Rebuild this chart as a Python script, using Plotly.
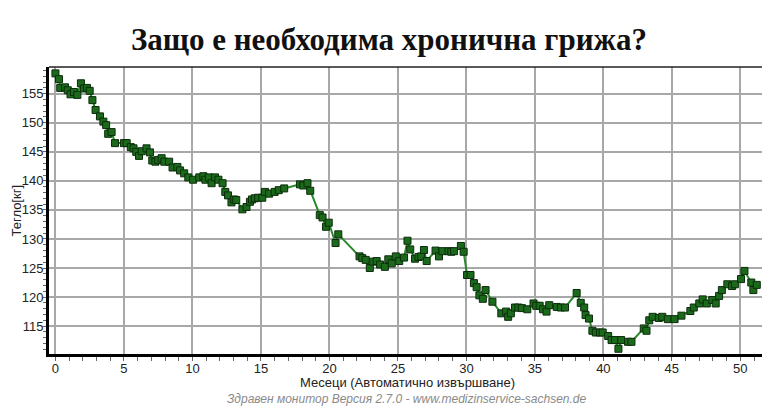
import plotly.graph_objects as go

months = [0.0, 0.26, 0.35, 0.7, 0.9, 1.1, 1.35, 1.6, 1.86, 2.08, 2.3, 2.5, 2.7, 2.93, 3.25, 3.5, 3.7, 3.85, 4.1, 4.35,
          5.0, 5.2, 5.5, 5.7, 5.9, 6.1, 6.3, 6.65, 6.9, 7.07, 7.3, 7.5, 7.75, 7.95, 8.3, 8.55, 8.9, 9.1, 9.4, 9.7,
          10.05, 10.5, 10.8, 10.95, 11.2, 11.4, 11.65, 11.9, 12.2, 12.4, 12.6, 12.85, 13.05, 13.2, 13.65, 13.95,
          14.2, 14.35, 14.55, 14.8, 15.1, 15.3, 15.6, 16.0, 16.3, 16.7, 17.85, 18.1, 18.4, 18.6,
          19.3, 19.5, 19.75, 19.95, 20.45, 20.65, 22.2, 22.4, 22.65, 22.95, 23.2, 23.45, 23.7, 24.05, 24.3, 24.55,
          24.85, 25.1, 25.45, 25.7, 25.9, 26.25, 26.5, 26.7, 26.9, 27.1, 27.75, 28.0, 28.25, 28.7, 28.9, 29.1,
          29.6, 29.8, 30.05, 30.3, 30.55, 30.75, 30.95, 31.2, 31.4, 31.9, 32.55, 32.9, 33.05, 33.25, 33.55, 33.8,
          34.05, 34.45, 34.9, 35.1, 35.35, 35.6, 35.85, 36.05, 36.6, 36.9, 37.2, 38.05, 38.35, 38.6, 38.7, 38.95,
          39.2, 39.45, 39.75, 39.95, 40.35, 40.6, 40.85, 41.1, 41.3, 41.8, 42.05, 42.95, 43.15, 43.35, 43.6,
          44.05, 44.3, 44.7, 45.2, 45.7, 46.35, 46.6, 47.0, 47.25, 47.55, 47.95, 48.2, 48.45, 48.65, 49.05,
          49.4, 49.6, 50.05, 50.3, 50.8, 50.95, 51.2]

weight = [158.5, 157.5, 156.0, 156.1, 155.6, 154.9, 155.3, 154.8, 156.8, 155.9, 156.0, 155.5, 153.9, 152.2, 151.1,
          150.2, 149.6, 148.1, 148.4, 146.5,
          146.5, 146.5, 145.8, 145.6, 145.0, 144.3, 145.1, 145.6, 144.9, 143.5, 143.3, 143.6, 143.9, 143.3, 143.3,
          142.3, 142.4, 141.8, 141.3, 140.6,
          140.2, 140.6, 140.8, 140.2, 140.6, 139.6, 140.6, 140.2, 139.6, 138.1, 137.5, 136.3, 136.8, 136.7, 135.1,
          135.5, 136.4, 136.8, 137.0, 137.1, 137.1, 138.1, 137.8, 138.1, 138.4, 138.7, 139.4, 139.2, 139.6, 138.3,
          134.1, 133.7, 132.1, 132.8, 129.3, 130.8, 127.0, 126.7, 126.4, 125.0, 126.1, 126.2, 125.6, 125.2, 126.5,
          125.8, 127.0, 126.2, 126.8, 129.7, 128.2, 126.6, 126.9, 127.0, 128.1, 126.2, 128.0, 127.0, 127.9, 127.9,
          127.8, 127.9,
          128.8, 127.8, 123.8, 123.8, 122.4, 121.7, 120.3, 119.7, 121.2, 119.2, 117.2, 117.5, 116.6, 117.2, 118.2,
          118.2, 118.1, 117.9, 118.9, 118.5, 118.5, 117.9, 117.5, 118.6, 118.3, 118.2, 118.2, 120.7, 119.0, 118.2,
          116.9, 116.3, 114.2, 113.9, 113.9, 113.9, 113.3, 112.6, 112.6, 111.1, 112.6, 112.3, 112.3, 114.6, 114.2,
          116.0, 116.6, 116.4, 116.6, 116.2, 116.2, 116.8, 117.6, 118.2, 118.9, 119.6, 118.9, 119.5, 118.9, 120.2,
          121.2, 122.2, 121.9, 122.2, 123.1, 124.5, 122.5, 121.2, 122.1]

x_ticks = [0, 5, 10, 15, 20, 25, 30, 35, 40, 45, 50]
y_ticks = [115, 120, 125, 130, 135, 140, 145, 150, 155]

title_text = "Защо е необходима хронична грижа?"
x_title = "Месеци (Автоматично извършване)"
y_title = "Тегло[кг]"
footer = "Здравен монитор Версия 2.7.0 - www.medizinservice-sachsen.de"

fig = go.Figure()
fig.add_trace(go.Scatter(
    x=months, y=weight, mode="lines+markers",
    line=dict(color="#2a8a2a", width=2),
    marker=dict(symbol="square", size=7, color="#1b6a1b", line=dict(color="#0c2c0c", width=1)),
    showlegend=False,
))

font_sans = "Liberation Sans, Arial, sans-serif"

# page body has an 8px default margin, so the figure is sized/offset to fit the 770x410 window
W, H = 762, 402
L, R, T, B = 41, 5, 59, 56
PW, PH = W - L - R, H - T - B

fig.update_layout(
    width=W, height=H,
    margin=dict(l=L, r=R, t=T, b=B),
    paper_bgcolor="white", plot_bgcolor="white",
    font=dict(family=font_sans, size=13, color="#222"),
    title=dict(text="<b>" + title_text + "</b>", x=0.5, xanchor="center", y=1 - 31 / H, yanchor="middle",
               font=dict(family="Liberation Serif, Times New Roman, serif", size=31, color="#111")),
    xaxis=dict(
        range=[-0.47, 51.8], tickvals=x_ticks, ticktext=[str(v) for v in x_ticks],
        automargin=False,
        showgrid=True, gridcolor="#a8a8a8", gridwidth=1.5,
        showline=True, linecolor="black", linewidth=3, zeroline=False,
        ticks="",
        minor=dict(dtick=1, tick0=0, ticks="outside", ticklen=4, tickcolor="#666", showgrid=False),
        tickfont=dict(size=13, color="#222"),
    ),
    yaxis=dict(
        range=[110.2, 159.6], tickvals=y_ticks, ticktext=[str(v) for v in y_ticks],
        automargin=False,
        showgrid=True, gridcolor="#a8a8a8", gridwidth=1.5,
        showline=True, linecolor="black", linewidth=3, zeroline=False,
        ticks="",
        minor=dict(dtick=1, tick0=110, ticks="outside", ticklen=3, tickcolor="#666", showgrid=False),
        tickfont=dict(size=13, color="#222"),
    ),
    shapes=[
        dict(type="line", xref="paper", yref="paper", x0=0, x1=1, y0=1, y1=1,
             line=dict(color="#222", width=1.5)),
        dict(type="line", xref="paper", yref="paper", x0=1, x1=1, y0=0, y1=1,
             line=dict(color="#777", width=1.5)),
    ],
    annotations=[
        dict(text=x_title, xref="paper", yref="paper", x=0.5, y=-28 / PH,
             xanchor="center", yanchor="middle", showarrow=False,
             font=dict(family=font_sans, size=13, color="#222")),
        dict(text=y_title, xref="paper", yref="paper", x=-33 / PW, y=0.5, textangle=-90,
             xanchor="center", yanchor="middle", showarrow=False,
             font=dict(family=font_sans, size=13, color="#222")),
        dict(text="<i>" + footer + "</i>", xref="paper", yref="paper", x=0.5, y=-45 / PH,
             xanchor="center", yanchor="middle", showarrow=False,
             font=dict(family=font_sans, size=12, color="#8a8a8a")),
    ],
)

fig.write_html("out.html")
